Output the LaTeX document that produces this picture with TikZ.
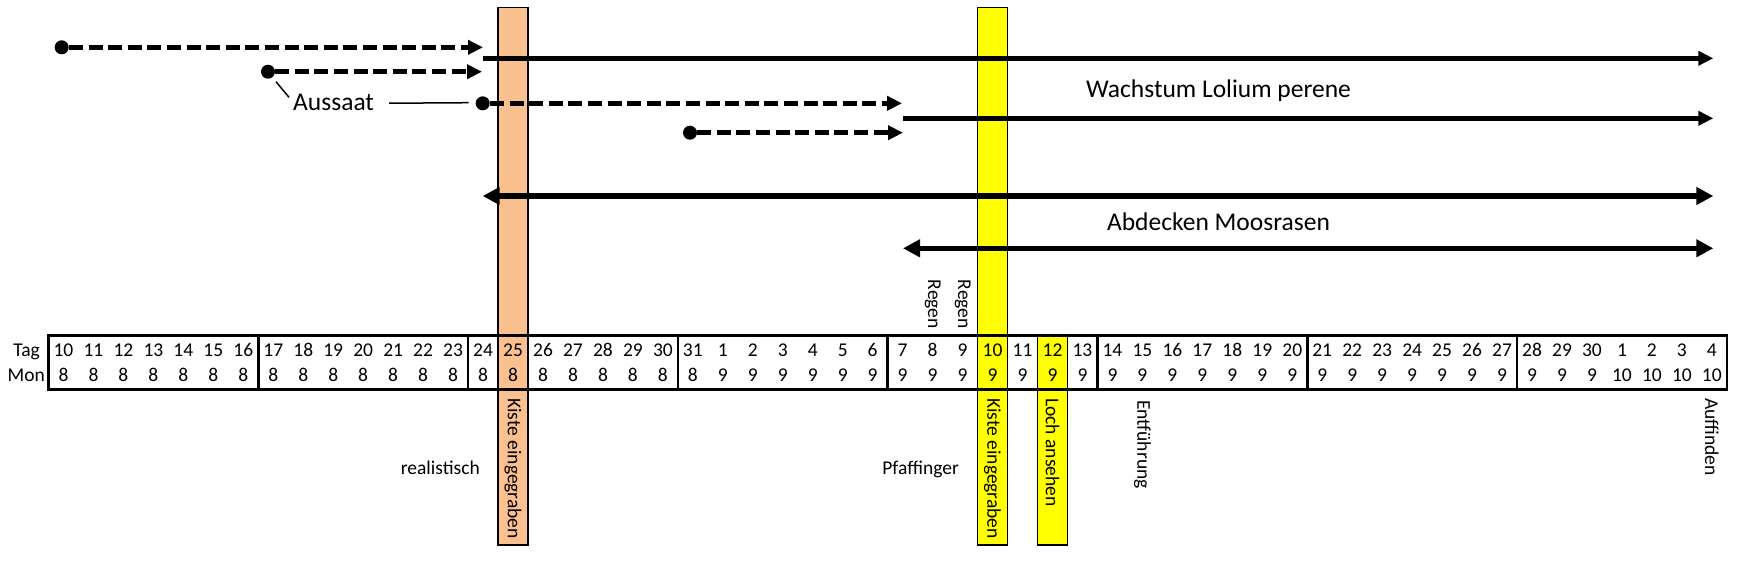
\documentclass[tikz,border=0pt]{standalone}
\usepackage{fontspec}
\setmainfont{Carlito}
\usetikzlibrary{arrows.meta}
\definecolor{orangefill}{HTML}{FAC090}
\definecolor{yellowfill}{HTML}{FFFF00}
\begin{document}
\begin{tikzpicture}[x=1pt,y=-1pt,
  tbl/.style={font=\fontsize{19.5}{23}\selectfont, inner sep=0pt},
  big/.style={font=\fontsize{25.5}{30}\selectfont, inner sep=0pt},
  vlab/.style={font=\fontsize{19.5}{23}\selectfont, inner sep=0pt, rotate=-90},
  hlbox/.style={draw=black, line width=1.2pt},
  dot/.style={circle, fill=black, inner sep=0pt, minimum size=14pt},
  dasharr/.style={line width=4.5pt, dash pattern=on 14pt off 5.6pt, -{Triangle[length=15pt,width=14pt]}},
  solarr/.style={line width=4.5pt, -{Triangle[length=15pt,width=14pt]}},
  dblarr/.style={line width=5.5pt, {Triangle[length=17pt,width=17pt]}-{Triangle[length=17pt,width=17pt]}},
  thin/.style={line width=1.5pt},
  frame/.style={line width=2.5pt},
]
\useasboundingbox (0,0) rectangle (1737,566);
\def\L{48.5}
\def\W{29.97}
\def\T{335.5}
\def\B{389.5}
% highlighted columns
\draw[hlbox, fill=orangefill] ({\L+15*\W},7.3) rectangle ({\L+16*\W},545);
\draw[hlbox, fill=yellowfill] ({\L+31*\W},7.3) rectangle ({\L+32*\W},545);
\draw[hlbox, fill=yellowfill] ({\L+33*\W},\T) rectangle ({\L+34*\W},545);
% table frame and week dividers
\draw[frame] (\L,\T) rectangle ({\L+56*\W},\B);
\foreach \k in {7,14,21,28,35,42,49}
  \draw[frame] ({\L+\k*\W},\T) -- ({\L+\k*\W},\B);
% row labels
\node[tbl, anchor=base east] (tag) at (40,356.5) {Tag};
\node[tbl, anchor=base east] (mon) at (45,381.7) {Mon};
% table cells
\foreach \d in {10,...,31}{
  \pgfmathsetmacro\i{\d-10}
  \node[tbl, anchor=base] (t\d a) at ({\L+(\i+0.5)*\W},356.5) {\d};
  \node[tbl, anchor=base] (m\d a) at ({\L+(\i+0.5)*\W},381.7) {8};
}
\foreach \d in {1,...,30}{
  \pgfmathsetmacro\i{\d+21}
  \node[tbl, anchor=base] (t\d b) at ({\L+(\i+0.5)*\W},356.5) {\d};
  \node[tbl, anchor=base] (m\d b) at ({\L+(\i+0.5)*\W},381.7) {9};
}
\foreach \d in {1,...,4}{
  \pgfmathsetmacro\i{\d+51}
  \node[tbl, anchor=base] (t\d c) at ({\L+(\i+0.5)*\W},356.5) {\d};
  \node[tbl, anchor=base] (m\d c) at ({\L+(\i+0.5)*\W},381.7) {10};
}
% rotated labels
\node[vlab, anchor=east] (regen1) at ({\L+29.5*\W},329) {Regen};
\node[vlab, anchor=east] (regen2) at ({\L+30.5*\W},329) {Regen};
\node[vlab, anchor=west] (kiste1) at ({\L+15.5*\W},398) {Kiste eingegraben};
\node[vlab, anchor=west] (kiste2) at ({\L+31.5*\W},398) {Kiste eingegraben};
\node[vlab, anchor=west] (loch) at ({\L+33.5*\W},398) {Loch ansehen};
\node[vlab, anchor=west] (entf) at ({\L+36.5*\W},400) {Entführung};
\node[vlab, anchor=west] (auff) at ({\L+55.5*\W},398) {Auffinden};
\node[tbl, anchor=base east] (real) at (480,474) {realistisch};
\node[tbl, anchor=base east] (pfaf) at (959,474) {Pfaffinger};
% big labels
\node[big, anchor=base] (wachs) at (1218.5,97) {Wachstum Lolium perene};
\node[big, anchor=base] (abdeck) at (1218.5,230) {Abdecken Moosrasen};
\node[big, anchor=base west] (aus) at (293,110.7) {Aussaat};
% dots and arrow end points
\node[dot] (d1) at (61.7,47.3) {};
\node[dot] (d2) at (268,71.7) {};
\node[dot] (d3) at (482.7,103.3) {};
\node[dot] (d4) at (690,132.7) {};
\coordinate (e1) at (483,47.3);
\coordinate (e2) at (482,71.7);
\coordinate (e3) at (902,103.3);
\coordinate (e4) at (903,132.7);
\coordinate (s1) at (482.7,58.3);
\coordinate (f1) at (1713.3,58.3);
\coordinate (s3) at (903,118.3);
\coordinate (f3) at (1713.3,118.3);
\coordinate (a1) at (482.7,196);
\coordinate (b1) at (1713.3,196);
\coordinate (a2) at (903,248.3);
\coordinate (b2) at (1713.3,248.3);
% arrows
\draw[dasharr] (d1) -- (e1);
\draw[dasharr] (d2) -- (e2);
\draw[dasharr] (d3) -- (e3);
\draw[dasharr] (d4) -- (e4);
\draw[solarr] (s1) -- (f1);
\draw[solarr] (s3) -- (f3);
\draw[dblarr] (a1) -- (b1);
\draw[dblarr] (a2) -- (b2);
% Aussaat pointers
\draw[thin] ([shift={(15,0.6)}]aus.east) -- ([shift={(-7,-0.6)}]d3.west);
\draw[thin] ([shift={(8,10)}]d2.center) -- ([shift={(-4,-13.4)}]aus.base west);
\end{tikzpicture}
\end{document}
